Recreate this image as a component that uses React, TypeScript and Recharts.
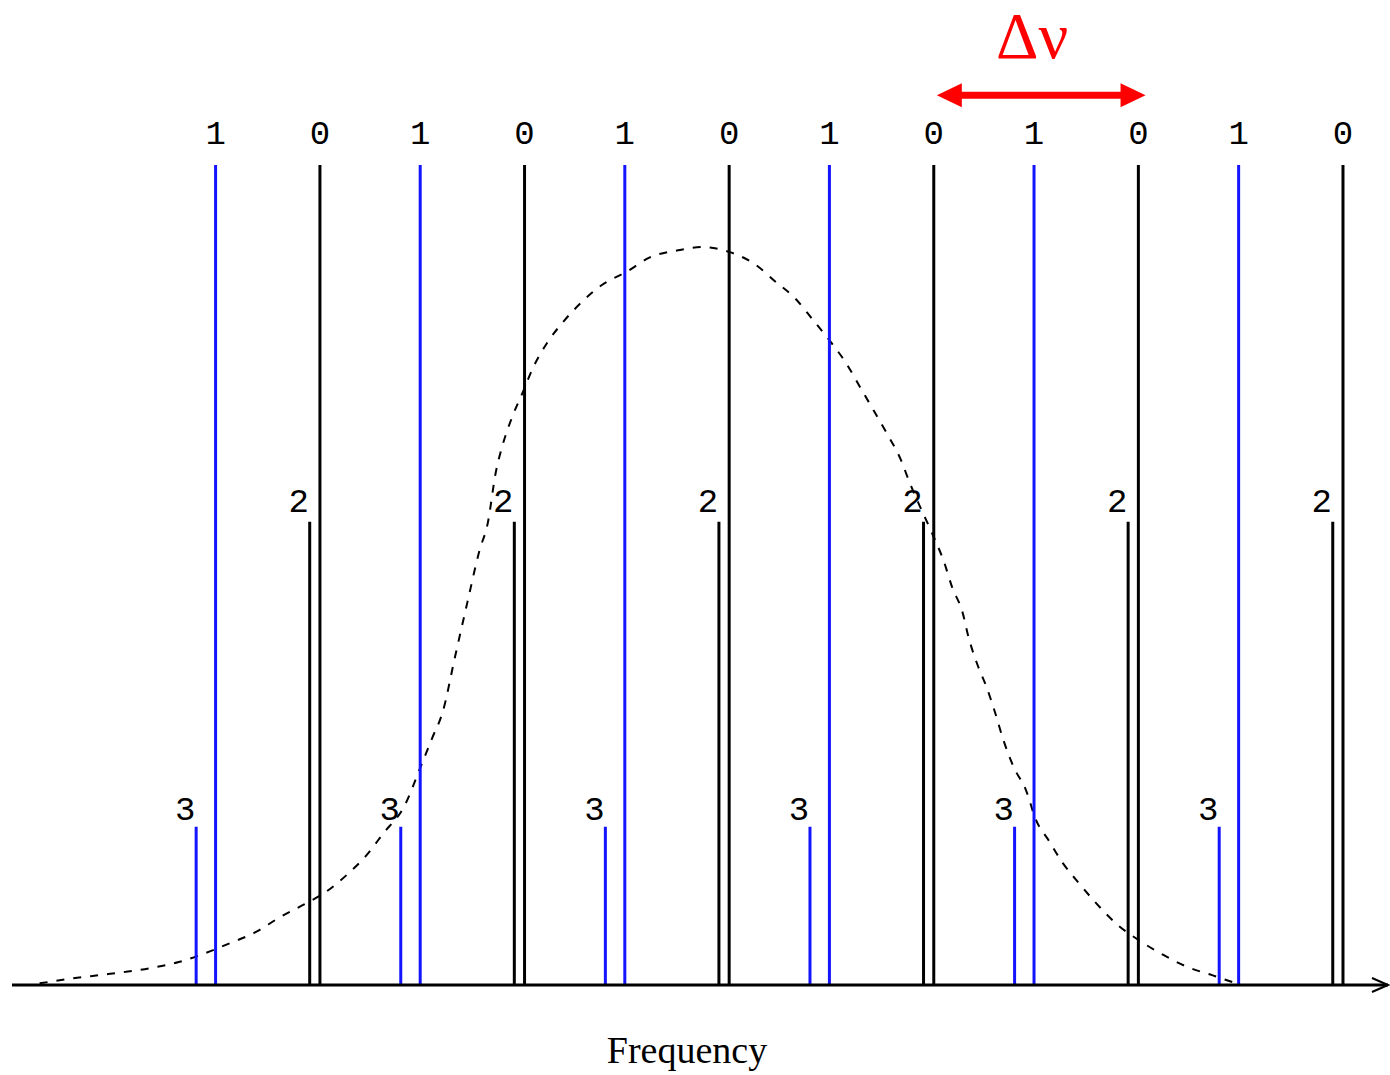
import { ComposedChart, Line, ReferenceLine, XAxis, YAxis } from "recharts";

// Mode frequencies in units of the large separation, per angular degree l
const l0Freq = [1.0, 2.0, 3.0, 4.0, 5.0, 6.0];
const l1Freq = [0.49, 1.49, 2.49, 3.49, 4.49, 5.49];
const l2Freq = [0.95, 1.95, 2.95, 3.95, 4.95, 5.95];
const l3Freq = [0.395, 1.395, 2.395, 3.395, 4.395, 5.395];

// Relative visibility of each degree (index = l)
const degreeHeight = [1.0, 1.0, 0.565, 0.193];
const degreeLabel = ["0", "1", "2", "3"];

// Envelope of mode power (dashed curve)
const envFreq = [
  -0.37, -0.21, -0.08, 0.05, 0.18, 0.31, 0.42, 0.56, 0.69, 0.8, 0.92, 1.02, 1.13, 1.23,
  1.31, 1.41, 1.5, 1.55, 1.6, 1.66, 1.72, 1.78, 1.82, 1.86, 1.89, 1.94, 1.99, 2.04, 2.11,
  2.19, 2.28, 2.38, 2.5, 2.61, 2.75, 2.87, 3.0, 3.12, 3.23, 3.32, 3.41, 3.5, 3.57, 3.64,
  3.71, 3.77, 3.84, 3.88, 3.93, 3.99, 4.05, 4.09, 4.14, 4.17, 4.21, 4.26, 4.3, 4.34, 4.39,
  4.45, 4.5, 4.56, 4.63, 4.71, 4.8, 4.9, 5.0, 5.12, 5.24, 5.36, 5.5,
];
const envPower = [
  0.002, 0.008, 0.012, 0.016, 0.021, 0.028, 0.037, 0.051, 0.065, 0.082, 0.098, 0.112, 0.134,
  0.159, 0.185, 0.217, 0.271, 0.302, 0.333, 0.4, 0.466, 0.53, 0.563, 0.626, 0.656, 0.693,
  0.722, 0.752, 0.783, 0.809, 0.833, 0.854, 0.87, 0.887, 0.896, 0.9, 0.894, 0.88, 0.857,
  0.838, 0.811, 0.783, 0.759, 0.729, 0.699, 0.673, 0.64, 0.614, 0.585, 0.552, 0.516, 0.485,
  0.455, 0.424, 0.393, 0.362, 0.332, 0.299, 0.266, 0.238, 0.201, 0.177, 0.149, 0.124, 0.098,
  0.073, 0.055, 0.037, 0.022, 0.012, 0.0,
];

// Large separation marker: from one l=0 mode to the next
const sepStart = 4.015;
const sepEnd = 5.035;
const sepLevel = 1.085;

const envelope = envFreq.map((f, i) => ({ freq: f, power: envPower[i] }));

const BLUE = "#1414ff";
const RED = "#ff0000";
const MONO = "'Liberation Mono', 'DejaVu Sans Mono', monospace";
const SERIF = "'Liberation Serif', 'DejaVu Serif', serif";

// label offset per degree: [dx from line, gap between baseline and line top]
const labelPlacement = [
  [0, 21],
  [0, 21],
  [-11, 10],
  [-11, 7],
];

const modes = [l0Freq, l1Freq, l2Freq, l3Freq].flatMap((freqs, l) =>
  freqs.map((f) => ({ freq: f, l }))
);

function ModeLine(props: any) {
  const { x1, y1, x2, y2, l } = props;
  const top = Math.min(y1, y2);
  const bottom = Math.max(y1, y2);
  const [dx, gap] = labelPlacement[l];
  const color = l % 2 === 1 ? BLUE : "#000";
  return (
    <g>
      <line x1={x1} x2={x2} y1={bottom} y2={top} stroke={color} strokeWidth={3} />
      <text
        x={x1 + dx}
        y={top - gap}
        textAnchor="middle"
        fontFamily={MONO}
        fontSize={34}
        fill="#000"
      >
        {degreeLabel[l]}
      </text>
    </g>
  );
}

function SeparationArrow(props: any) {
  const { x1, x2, y1 } = props;
  const head = 25;
  const half = 12;
  return (
    <g>
      <line x1={x1 + head - 1} x2={x2 - head + 1} y1={y1} y2={y1} stroke={RED} strokeWidth={7} />
      <polygon points={`${x1},${y1} ${x1 + head},${y1 - half} ${x1 + head},${y1 + half}`} fill={RED} />
      <polygon points={`${x2},${y1} ${x2 - head},${y1 - half} ${x2 - head},${y1 + half}`} fill={RED} />
      <text
        x={(x1 + x2) / 2 - 9}
        y={y1 - 37}
        textAnchor="middle"
        fontFamily={SERIF}
        fontSize={66}
        fill={RED}
      >
        Δν
      </text>
    </g>
  );
}

function FrequencyAxis(props: any) {
  const { x1, x2, y1 } = props;
  return (
    <g>
      <line x1={x1} x2={x2} y1={y1} y2={y1} stroke="#000" strokeWidth={3} />
      <path
        d={`M${x2 - 16},${y1 - 7} L${x2},${y1} L${x2 - 16},${y1 + 7}`}
        fill="none"
        stroke="#000"
        strokeWidth={2}
      />
      <text
        x={(x1 + x2) / 2 - 13}
        y={y1 + 78}
        textAnchor="middle"
        fontFamily={SERIF}
        fontSize={38}
        fill="#000"
      >
        Frequency
      </text>
    </g>
  );
}

export default function App() {
  return (
    <div style={{ width: 1390, height: 1075, background: "#fff" }}>
      <style>{`body{margin:0}`}</style>
      <ComposedChart
        width={1390}
        height={1075}
        margin={{ top: 165, right: 2, bottom: 90, left: 12 }}
      >
        <XAxis
          type="number"
          dataKey="freq"
          domain={[-0.505, 6.22]}
          allowDataOverflow
          hide
        />
        <YAxis type="number" domain={[0, 1]} allowDataOverflow hide />
        <Line
          data={envelope}
          dataKey="power"
          type="monotone"
          stroke="#000"
          strokeWidth={2}
          strokeDasharray="8 9"
          dot={false}
          activeDot={false}
          isAnimationActive={false}
        />
        {modes.map((m, i) => (
          <ReferenceLine
            key={`mode-${i}`}
            segment={[
              { x: m.freq, y: 0 },
              { x: m.freq, y: degreeHeight[m.l] },
            ]}
            ifOverflow="visible"
            shape={(p: any) => <ModeLine {...p} l={m.l} />}
          />
        ))}
        <ReferenceLine
          y={0}
          ifOverflow="visible"
          shape={(p: any) => <FrequencyAxis {...p} />}
        />
        <ReferenceLine
          segment={[
            { x: sepStart, y: sepLevel },
            { x: sepEnd, y: sepLevel },
          ]}
          ifOverflow="visible"
          shape={(p: any) => <SeparationArrow {...p} />}
        />
      </ComposedChart>
    </div>
  );
}
